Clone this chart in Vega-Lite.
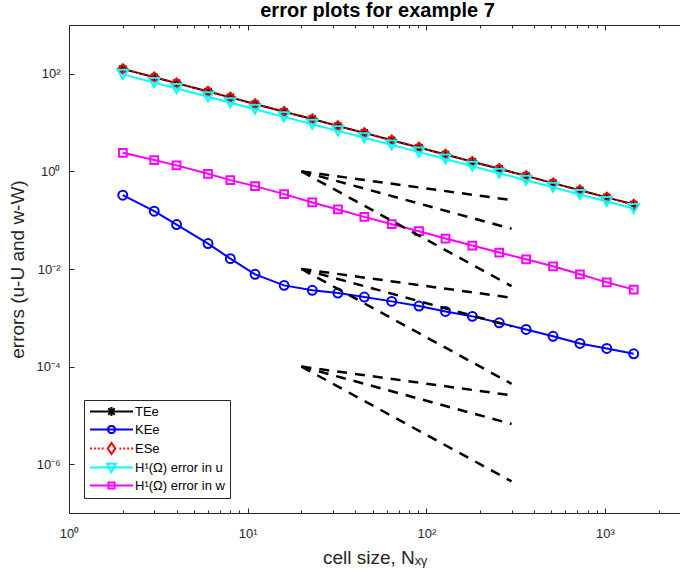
{
  "$schema": "https://vega.github.io/schema/vega-lite/v6.json",
  "width": 611,
  "height": 488,
  "autosize": "none",
  "padding": {"left": 69, "top": 25, "right": 0, "bottom": 70},
  "title": {"text": "error plots for example 7", "font": "Liberation Sans", "fontSize": 20, "fontWeight": "bold", "color": "#000000", "offset": 4, "dx": 3},
  "config": {
    "view": {"stroke": null},
    "font": "Liberation Sans",
    "axis": {"labelFont": "Liberation Sans", "labelFontSize": 13, "labelColor": "#262626", "titleFont": "Liberation Sans", "titleFontSize": 19, "titleFontWeight": "normal", "titleColor": "#262626", "domainColor": "#262626", "tickColor": "#262626", "grid": false, "tickWidth": 1, "domainWidth": 1, "labelFlush": false, "labelOverlap": false}
  },
  "datasets": {
    "series": [
      {"N": 2, "v": 126, "s": "TEe"}, {"N": 3, "v": 85.2, "s": "TEe"}, {"N": 4, "v": 64.4, "s": "TEe"}, {"N": 6, "v": 43.5, "s": "TEe"}, {"N": 8, "v": 32.9, "s": "TEe"}, {"N": 11, "v": 24.1, "s": "TEe"}, {"N": 16, "v": 16.7, "s": "TEe"}, {"N": 23, "v": 11.8, "s": "TEe"}, {"N": 32, "v": 8.55, "s": "TEe"}, {"N": 45, "v": 6.15, "s": "TEe"}, {"N": 64, "v": 4.35, "s": "TEe"}, {"N": 91, "v": 3.10, "s": "TEe"}, {"N": 128, "v": 2.22, "s": "TEe"}, {"N": 181, "v": 1.58, "s": "TEe"}, {"N": 256, "v": 1.13, "s": "TEe"}, {"N": 362, "v": 0.809, "s": "TEe"}, {"N": 512, "v": 0.575, "s": "TEe"}, {"N": 724, "v": 0.411, "s": "TEe"}, {"N": 1024, "v": 0.294, "s": "TEe"}, {"N": 1448, "v": 0.210, "s": "TEe"},
      {"N": 2, "v": 0.326, "s": "KEe"}, {"N": 3, "v": 0.153, "s": "KEe"}, {"N": 4, "v": 0.0815, "s": "KEe"}, {"N": 6, "v": 0.0332, "s": "KEe"}, {"N": 8, "v": 0.0163, "s": "KEe"}, {"N": 11, "v": 0.00778, "s": "KEe"}, {"N": 16, "v": 0.00462, "s": "KEe"}, {"N": 23, "v": 0.00366, "s": "KEe"}, {"N": 32, "v": 0.00321, "s": "KEe"}, {"N": 45, "v": 0.00266, "s": "KEe"}, {"N": 64, "v": 0.00217, "s": "KEe"}, {"N": 91, "v": 0.00174, "s": "KEe"}, {"N": 128, "v": 0.00135, "s": "KEe"}, {"N": 181, "v": 0.00107, "s": "KEe"}, {"N": 256, "v": 0.00079, "s": "KEe"}, {"N": 362, "v": 0.000578, "s": "KEe"}, {"N": 512, "v": 0.000417, "s": "KEe"}, {"N": 724, "v": 0.000298, "s": "KEe"}, {"N": 1024, "v": 0.000235, "s": "KEe"}, {"N": 1448, "v": 0.000183, "s": "KEe"},
      {"N": 2, "v": 126, "s": "ESe"}, {"N": 3, "v": 85.2, "s": "ESe"}, {"N": 4, "v": 64.4, "s": "ESe"}, {"N": 6, "v": 43.5, "s": "ESe"}, {"N": 8, "v": 32.9, "s": "ESe"}, {"N": 11, "v": 24.1, "s": "ESe"}, {"N": 16, "v": 16.7, "s": "ESe"}, {"N": 23, "v": 11.8, "s": "ESe"}, {"N": 32, "v": 8.55, "s": "ESe"}, {"N": 45, "v": 6.15, "s": "ESe"}, {"N": 64, "v": 4.35, "s": "ESe"}, {"N": 91, "v": 3.10, "s": "ESe"}, {"N": 128, "v": 2.22, "s": "ESe"}, {"N": 181, "v": 1.58, "s": "ESe"}, {"N": 256, "v": 1.13, "s": "ESe"}, {"N": 362, "v": 0.809, "s": "ESe"}, {"N": 512, "v": 0.575, "s": "ESe"}, {"N": 724, "v": 0.411, "s": "ESe"}, {"N": 1024, "v": 0.294, "s": "ESe"}, {"N": 1448, "v": 0.210, "s": "ESe"},
      {"N": 2, "v": 97.2, "s": "H¹(Ω) error in u"}, {"N": 3, "v": 65.9, "s": "H¹(Ω) error in u"}, {"N": 4, "v": 49.9, "s": "H¹(Ω) error in u"}, {"N": 6, "v": 33.9, "s": "H¹(Ω) error in u"}, {"N": 8, "v": 25.6, "s": "H¹(Ω) error in u"}, {"N": 11, "v": 18.8, "s": "H¹(Ω) error in u"}, {"N": 16, "v": 13.1, "s": "H¹(Ω) error in u"}, {"N": 23, "v": 9.27, "s": "H¹(Ω) error in u"}, {"N": 32, "v": 6.76, "s": "H¹(Ω) error in u"}, {"N": 45, "v": 4.88, "s": "H¹(Ω) error in u"}, {"N": 64, "v": 3.47, "s": "H¹(Ω) error in u"}, {"N": 91, "v": 2.48, "s": "H¹(Ω) error in u"}, {"N": 128, "v": 1.79, "s": "H¹(Ω) error in u"}, {"N": 181, "v": 1.28, "s": "H¹(Ω) error in u"}, {"N": 256, "v": 0.918, "s": "H¹(Ω) error in u"}, {"N": 362, "v": 0.656, "s": "H¹(Ω) error in u"}, {"N": 512, "v": 0.472, "s": "H¹(Ω) error in u"}, {"N": 724, "v": 0.337, "s": "H¹(Ω) error in u"}, {"N": 1024, "v": 0.242, "s": "H¹(Ω) error in u"}, {"N": 1448, "v": 0.174, "s": "H¹(Ω) error in u"},
      {"N": 2, "v": 2.41, "s": "H¹(Ω) error in w"}, {"N": 3, "v": 1.71, "s": "H¹(Ω) error in w"}, {"N": 4, "v": 1.33, "s": "H¹(Ω) error in w"}, {"N": 6, "v": 0.893, "s": "H¹(Ω) error in w"}, {"N": 8, "v": 0.663, "s": "H¹(Ω) error in w"}, {"N": 11, "v": 0.499, "s": "H¹(Ω) error in w"}, {"N": 16, "v": 0.342, "s": "H¹(Ω) error in w"}, {"N": 23, "v": 0.231, "s": "H¹(Ω) error in w"}, {"N": 32, "v": 0.166, "s": "H¹(Ω) error in w"}, {"N": 45, "v": 0.117, "s": "H¹(Ω) error in w"}, {"N": 64, "v": 0.0828, "s": "H¹(Ω) error in w"}, {"N": 91, "v": 0.0594, "s": "H¹(Ω) error in w"}, {"N": 128, "v": 0.0421, "s": "H¹(Ω) error in w"}, {"N": 181, "v": 0.0303, "s": "H¹(Ω) error in w"}, {"N": 256, "v": 0.0217, "s": "H¹(Ω) error in w"}, {"N": 362, "v": 0.0158, "s": "H¹(Ω) error in w"}, {"N": 512, "v": 0.01135, "s": "H¹(Ω) error in w"}, {"N": 724, "v": 0.00778, "s": "H¹(Ω) error in w"}, {"N": 1024, "v": 0.00533, "s": "H¹(Ω) error in w"}, {"N": 1448, "v": 0.00378, "s": "H¹(Ω) error in w"}
    ],
    "refs": [
      {"N": 20, "v": 1, "g": "a1"}, {"N": 300, "v": 0.2582, "g": "a1"},
      {"N": 20, "v": 1, "g": "a2"}, {"N": 300, "v": 0.06667, "g": "a2"},
      {"N": 20, "v": 1, "g": "a3"}, {"N": 300, "v": 0.004444, "g": "a3"},
      {"N": 20, "v": 0.01, "g": "b1"}, {"N": 300, "v": 0.002582, "g": "b1"},
      {"N": 20, "v": 0.01, "g": "b2"}, {"N": 300, "v": 0.0006667, "g": "b2"},
      {"N": 20, "v": 0.01, "g": "b3"}, {"N": 300, "v": 0.00004444, "g": "b3"},
      {"N": 20, "v": 0.0001, "g": "c1"}, {"N": 300, "v": 0.00002582, "g": "c1"},
      {"N": 20, "v": 0.0001, "g": "c2"}, {"N": 300, "v": 0.000006667, "g": "c2"},
      {"N": 20, "v": 0.0001, "g": "c3"}, {"N": 300, "v": 0.0000004444, "g": "c3"}
    ]
  },
  "layer": [
    {
      "data": {"name": "series"},
      "transform": [{"filter": "datum.s === 'TEe'"}],
      "mark": {"type": "line", "strokeWidth": 2, "point": {"shape": "M-1,0H1M0,-1V1M-0.7,-0.7L0.7,0.7M-0.7,0.7L0.7,-0.7", "filled": false, "size": 100, "strokeWidth": 1.5}},
      "encoding": {
        "x": {"field": "N", "type": "quantitative", "scale": {"type": "log", "domain": [1, 2630], "nice": false}, "axis": {"orient": "bottom", "values": [1, 10, 100, 1000], "labelExpr": "'10' + (datum.value < 5 ? '⁰' : datum.value < 50 ? '¹' : datum.value < 500 ? '²' : '³')", "title": "cell size, Nₓᵧ", "tickSize": -5, "labelPadding": 19, "titlePadding": 8}},
        "y": {"field": "v", "type": "quantitative", "scale": {"type": "log", "domain": [0.0000001, 1000], "nice": false}, "axis": {"orient": "left", "values": [0.000001, 0.0001, 0.01, 1, 100], "labelExpr": "'10' + (datum.value < 0.00001 ? '⁻⁶' : datum.value < 0.001 ? '⁻⁴' : datum.value < 0.1 ? '⁻²' : datum.value < 10 ? '⁰' : '²')", "title": "errors (u-U and w-W)", "tickSize": -5, "labelPadding": 14, "titlePadding": 8}},
        "color": {"field": "s", "type": "nominal", "scale": {"domain": ["TEe", "KEe", "ESe", "H¹(Ω) error in u", "H¹(Ω) error in w"], "range": ["#000000", "#0000ff", "#ff0000", "#00ffff", "#ff00ff"]},
          "legend": {"orient": "bottom-left", "offset": 15, "title": null, "padding": 5, "rowPadding": 1, "labelFont": "Liberation Sans", "labelFontSize": 13, "labelColor": "#000000", "labelLimit": 300, "fillColor": "#ffffff", "strokeColor": "#262626", "symbolSize": 4, "symbolStrokeWidth": 2, "symbolOffset": 16, "labelOffset": 17,
            "encode": {"symbols": {"update": {
              "shape": {"signal": "datum.value === 'TEe' ? 'M-21.5,0H21.5M0,-4.5V4.5M-4.5,0H4.5M-3.2,-3.2L3.2,3.2M-3.2,3.2L3.2,-3.2' : datum.value === 'KEe' ? 'M-21.5,0H21.5M-3.6,0A3.6,3.6 0 1,1 3.6,0A3.6,3.6 0 1,1 -3.6,0' : datum.value === 'ESe' ? 'M-21.5,0H-19.6M-17.6,0H-15.7M-13.7,0H-11.8M-9.8,0H-7.9M7.9,0H9.8M11.8,0H13.7M15.7,0H17.6M19.6,0H21.5M0,-5.5L3.8,0L0,5.5L-3.8,0Z' : datum.value === 'H¹(Ω) error in u' ? 'M-21.5,0H21.5M-4.4,-3.8L4.4,-3.8L0,4.6Z' : 'M-21.5,0H21.5M-3.1,-3.1H3.1V3.1H-3.1Z'"},
              "strokeDash": {"value": [1, 0]},
              "fill": {"value": "transparent"},
              "strokeWidth": {"value": 2},
              "opacity": {"value": 1}
            }}}
          }}
      }
    },
    {
      "data": {"name": "series"},
      "transform": [{"filter": "datum.s === 'KEe'"}],
      "mark": {"type": "line", "strokeWidth": 2, "point": {"shape": "circle", "filled": false, "size": 80, "strokeWidth": 2}},
      "encoding": {
        "x": {"field": "N", "type": "quantitative", "axis": {"orient": "bottom", "values": [2, 3, 4, 5, 6, 7, 8, 9, 20, 30, 40, 50, 60, 70, 80, 90, 200, 300, 400, 500, 600, 700, 800, 900, 2000], "labels": false, "domain": false, "tickSize": -3, "title": null}},
        "y": {"field": "v", "type": "quantitative", "axis": null},
        "color": {"field": "s", "type": "nominal", "legend": null}
      }
    },
    {
      "data": {"name": "series"},
      "transform": [{"filter": "datum.s === 'ESe'"}],
      "mark": {"type": "line", "strokeWidth": 2, "strokeDash": [2.5, 2.5], "point": {"shape": "diamond", "filled": false, "size": 90, "strokeWidth": 2, "strokeDash": [1, 0]}},
      "encoding": {
        "x": {"field": "N", "type": "quantitative", "axis": {"orient": "top", "values": [1, 10, 100, 1000], "labels": false, "domain": true, "tickSize": -5, "title": null}},
        "y": {"field": "v", "type": "quantitative", "axis": null},
        "color": {"field": "s", "type": "nominal", "legend": null}
      }
    },
    {
      "data": {"name": "series"},
      "transform": [{"filter": "datum.s === 'H¹(Ω) error in u'"}],
      "mark": {"type": "line", "strokeWidth": 2, "point": {"shape": "triangle-down", "filled": false, "size": 110, "strokeWidth": 2}},
      "encoding": {
        "x": {"field": "N", "type": "quantitative", "axis": {"orient": "top", "values": [2, 3, 4, 5, 6, 7, 8, 9, 20, 30, 40, 50, 60, 70, 80, 90, 200, 300, 400, 500, 600, 700, 800, 900, 2000], "labels": false, "domain": false, "tickSize": -3, "title": null}},
        "y": {"field": "v", "type": "quantitative", "axis": null},
        "color": {"field": "s", "type": "nominal", "legend": null}
      }
    },
    {
      "data": {"name": "series"},
      "transform": [{"filter": "datum.s === 'H¹(Ω) error in w'"}],
      "mark": {"type": "line", "strokeWidth": 2, "point": {"shape": "square", "filled": false, "size": 60, "strokeWidth": 2}},
      "encoding": {
        "x": {"field": "N", "type": "quantitative", "axis": null},
        "y": {"field": "v", "type": "quantitative", "axis": null},
        "color": {"field": "s", "type": "nominal", "legend": null}
      }
    },
    {
      "data": {"name": "refs"},
      "mark": {"type": "line", "color": "#000000", "strokeWidth": 2.5, "strokeDash": [10, 8]},
      "encoding": {
        "x": {"field": "N", "type": "quantitative", "axis": null},
        "y": {"field": "v", "type": "quantitative", "axis": null},
        "detail": {"field": "g"}
      }
    }
  ],
  "resolve": {"axis": {"x": "independent", "y": "independent"}}
}
